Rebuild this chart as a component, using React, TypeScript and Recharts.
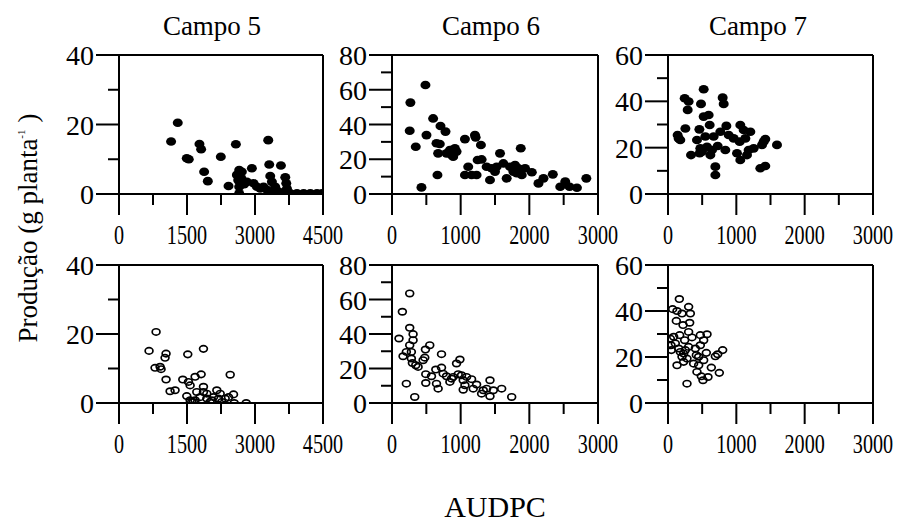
import React from "react";
import { ScatterChart, Scatter, XAxis, YAxis, ReferenceLine } from "recharts";

const FONT = '"Liberation Serif", "Times New Roman", serif';

// Campo 5 / 6 / 7, upper row (filled) and lower row (open): [AUDPC, produção]
const campo5Top: [number, number][] = [
  [1296, 20.5], [1149, 15.1], [1775, 14.4], [1812, 12.9], [1495, 10.3], [1539, 10.0],
  [1878, 6.4], [1959, 3.7], [2246, 10.7], [2578, 14.3], [2416, 2.3], [3292, 15.5],
  [3314, 8.5], [3572, 8.2], [2931, 7.4], [2651, 6.9], [2710, 6.4], [2600, 5.5],
  [2629, 4.0], [2651, 2.1], [2651, 0.2], [2821, 3.5], [2968, 3.1], [3115, 1.6],
  [3336, 5.2], [3373, 3.5], [3446, 2.1], [3668, 4.8], [3690, 3.1], [3705, 1.6],
  [3520, 0.7], [3778, 0.2], [3926, 0.2], [4073, 0.2], [4220, 0.2], [4367, 0.2],
  [4480, 0.2], [3594, 0.2], [3263, 1.2], [3189, 2.1], [3042, 2.1], [2700, 4.5],
  [2760, 2.8], [3400, 0.8],
];

const campo6Top: [number, number][] = [
  [268, 52.6], [487, 62.7], [258, 36.4], [346, 27.2], [429, 3.8], [502, 33.9],
  [599, 43.5], [706, 39.1], [779, 35.9], [648, 29.2], [696, 28.8], [672, 23.4],
  [662, 10.9], [794, 23.4], [843, 25.3], [891, 21.5], [940, 24.4], [867, 22.4],
  [916, 26.3], [1062, 31.6], [1208, 33.9], [1218, 32.6], [1295, 28.2], [1062, 10.9],
  [1110, 15.7], [1159, 10.9], [1232, 10.9], [1247, 19.6], [1305, 19.9], [1427, 8.1],
  [1451, 14.8], [1573, 23.4], [1524, 15.7], [1622, 17.6], [1670, 9.0], [1719, 15.7],
  [1792, 16.7], [1875, 26.3], [1817, 11.9], [1890, 10.9], [1938, 14.8], [2036, 12.5],
  [2133, 6.1], [2206, 9.0], [2342, 11.3], [2450, 4.2], [2523, 7.1], [2586, 4.2],
  [2693, 3.6], [2830, 9.0], [1768, 12.9], [1841, 14.8], [1500, 12.9], [1378, 15.7],
];

const campo7Top: [number, number][] = [
  [522, 45.2], [244, 41.3], [302, 39.9], [288, 36.3], [483, 38.9], [800, 41.6],
  [815, 38.9], [141, 25.5], [180, 23.3], [254, 28.3], [156, 24.0], [337, 16.8],
  [459, 27.9], [424, 23.3], [522, 33.4], [595, 34.1], [610, 29.8], [546, 24.8],
  [498, 18.3], [571, 20.4], [644, 19.0], [693, 11.8], [693, 8.2], [727, 20.7],
  [839, 19.0], [766, 26.9], [854, 29.4], [888, 25.5], [961, 24.0], [1058, 29.8],
  [1107, 27.6], [1205, 26.9], [1132, 24.0], [1049, 22.6], [1010, 17.6], [1058, 14.7],
  [1156, 16.8], [1180, 19.0], [1254, 19.7], [1400, 22.6], [1424, 23.7], [1376, 21.2],
  [1351, 11.1], [1424, 12.1], [1595, 21.2], [473, 19.7], [463, 17.6], [620, 16.8],
  [668, 24.8],
];

const campo5Bot: [number, number][] = [
  [818, 20.6], [663, 15.1], [1038, 14.3], [1016, 13.1], [1517, 14.1], [1863, 15.7],
  [795, 10.2], [906, 10.5], [928, 9.8], [1038, 6.8], [1127, 3.4], [1237, 3.7],
  [1407, 6.8], [1532, 6.1], [1569, 5.1], [1679, 7.6], [1812, 8.3], [2453, 8.2],
  [1495, 2.0], [1605, 0.3], [1679, 0.8], [1716, 3.2], [1789, 1.7], [1863, 4.7],
  [1863, 3.2], [1937, 1.3], [2010, 0.3], [2084, 1.7], [2158, 3.7], [2232, 2.7],
  [2268, 0.3], [2342, 1.3], [2416, 1.7], [2526, 2.5], [2541, 0.0], [2806, 0.0],
  [1642, 0.3], [1937, 2.7], [2047, 0.8], [2195, 1.3], [1569, 0.8],
];

const campo6Bot: [number, number][] = [
  [258, 63.5], [151, 52.9], [102, 37.4], [258, 43.6], [307, 39.9], [307, 36.4],
  [258, 33.5], [209, 29.6], [161, 27.1], [282, 29.6], [282, 25.8], [297, 23.2],
  [346, 21.9], [380, 20.9], [209, 11.2], [331, 3.5], [453, 24.8], [487, 31.0],
  [550, 33.5], [477, 26.3], [492, 16.7], [492, 11.6], [575, 15.5], [638, 19.4],
  [648, 11.2], [672, 8.3], [721, 28.3], [721, 20.5], [745, 17.0], [794, 15.5],
  [843, 12.2], [867, 14.1], [940, 22.9], [989, 25.2], [1013, 16.1], [1037, 13.2],
  [1062, 10.3], [1086, 15.1], [1037, 7.7], [1159, 13.8], [1183, 8.3], [1232, 10.7],
  [1305, 5.4], [1329, 7.4], [1378, 8.3], [1427, 13.2], [1427, 3.9], [1476, 7.4],
  [1597, 8.3], [1743, 3.5], [891, 15.1], [964, 16.7],
];

const campo7Bot: [number, number][] = [
  [166, 45.2], [68, 40.8], [132, 40.0], [205, 38.9], [302, 41.8], [327, 38.9],
  [122, 35.7], [220, 33.9], [317, 34.9], [302, 30.9], [34, 28.0], [83, 28.8],
  [171, 29.5], [244, 27.3], [351, 28.5], [44, 25.1], [107, 25.9], [156, 23.7],
  [49, 23.0], [180, 22.2], [229, 21.5], [205, 20.1], [278, 19.3], [132, 16.4],
  [229, 17.9], [400, 23.7], [473, 25.1], [473, 29.5], [571, 29.9], [522, 27.3],
  [561, 21.8], [449, 20.1], [415, 20.8], [522, 18.6], [449, 16.4], [424, 13.5],
  [488, 11.6], [512, 9.9], [585, 11.3], [634, 15.4], [693, 20.3], [727, 21.2],
  [800, 23.0], [751, 13.1], [278, 8.4], [375, 17.1], [302, 24.4], [254, 23.0],
];

// ticks
const xTicks5 = [0, 750, 1500, 2250, 3000, 3750, 4500];
const xLabels5 = [0, 1500, 3000, 4500];
const xTicks67 = [0, 500, 1000, 1500, 2000, 2500, 3000];
const xLabels67 = [0, 1000, 2000, 3000];
const yTicks5 = [0, 10, 20, 30, 40];
const yLabels5 = [0, 20, 40];
const yTicks6 = [0, 10, 20, 30, 40, 50, 60, 70, 80];
const yLabels6 = [0, 20, 40, 60, 80];
const yTicks7 = [0, 10, 20, 30, 40, 50, 60];
const yLabels7 = [0, 20, 40, 60];

const xTick = (labels: number[]) => (props: any) => {
  const { x, y, payload } = props;
  const major = labels.includes(payload.value);
  return (
    <g>
      <line x1={x} y1={y} x2={x} y2={y + (major ? 21 : 11)} stroke="#000" strokeWidth={2} />
      {major && (
        <text
          transform={`translate(${x},${y + 50}) scale(0.72,1)`}
          textAnchor="middle"
          fontSize={28}
          fontFamily={FONT}
          fill="#000"
        >
          {payload.value}
        </text>
      )}
    </g>
  );
};

const yTick = (labels: number[]) => (props: any) => {
  const { x, y, payload } = props;
  const major = labels.includes(payload.value);
  return (
    <g>
      <line x1={x - (major ? 23 : 11)} y1={y} x2={x} y2={y} stroke="#000" strokeWidth={2} />
      {major && (
        <text x={x - 25} y={y + 10} textAnchor="end" fontSize={28} fontFamily={FONT} fill="#000">
          {payload.value}
        </text>
      )}
    </g>
  );
};

const dot = (filled: boolean) => (p: any) =>
  filled ? (
    <ellipse cx={p.cx} cy={p.cy} rx={5} ry={4.3} fill="#000" />
  ) : (
    <ellipse cx={p.cx} cy={p.cy} rx={3.9} ry={3.2} fill="none" stroke="#000" strokeWidth={1.7} />
  );

interface PanelProps {
  left: number;
  top: number;
  width: number;
  height: number;
  points: [number, number][];
  xTicks: number[];
  xLabels: number[];
  yTicks: number[];
  yLabels: number[];
  filled: boolean;
}

function Panel({ left, top, width, height, points, xTicks, xLabels, yTicks, yLabels, filled }: PanelProps) {
  const ML = 100, MR = 50, MT = 30, MB = 60;
  const xMax = xTicks[xTicks.length - 1];
  const yMax = yTicks[yTicks.length - 1];
  const data = points.map(([x, y]) => ({ x, y }));
  return (
    <div style={{ position: "absolute", left: left - ML, top: top - MT }}>
      <ScatterChart
        width={width + ML + MR}
        height={height + MT + MB}
        margin={{ top: MT, right: MR, left: 0, bottom: 0 }}
      >
        <XAxis
          type="number"
          dataKey="x"
          domain={[0, xMax]}
          ticks={xTicks}
          interval={0}
          height={MB}
          tickSize={0}
          tickMargin={0}
          tickLine={false}
          axisLine={{ stroke: "#000", strokeWidth: 2 }}
          tick={xTick(xLabels)}
          allowDataOverflow
        />
        <YAxis
          type="number"
          dataKey="y"
          domain={[0, yMax]}
          ticks={yTicks}
          interval={0}
          width={ML}
          tickSize={0}
          tickMargin={0}
          tickLine={false}
          axisLine={{ stroke: "#000", strokeWidth: 2 }}
          tick={yTick(yLabels)}
          allowDataOverflow
        />
        <ReferenceLine y={yMax} stroke="#000" strokeWidth={2} />
        <ReferenceLine x={xMax} stroke="#000" strokeWidth={2} />
        <Scatter data={data} isAnimationActive={false} shape={dot(filled)} />
      </ScatterChart>
    </div>
  );
}

export default function App() {
  const topY = 55, topH = 139, botY = 265, botH = 138;
  return (
    <div style={{ position: "absolute", left: 0, top: 0, width: 902, height: 529, background: "#fff", overflow: "hidden" }}>
      <svg width={902} height={529} style={{ position: "absolute", left: 0, top: 0 }}>
        <text x={212} y={35} textAnchor="middle" fontSize={27} fontFamily={FONT}>Campo 5</text>
        <text x={491} y={35} textAnchor="middle" fontSize={27} fontFamily={FONT}>Campo 6</text>
        <text x={758} y={35} textAnchor="middle" fontSize={27} fontFamily={FONT}>Campo 7</text>
        <text x={495} y={517} textAnchor="middle" fontSize={30} fontFamily={FONT}>AUDPC</text>
        <text transform="translate(37,228) rotate(-90)" textAnchor="middle" fontSize={27} fontFamily={FONT}>
          Produção (g planta
          <tspan fontSize={11} dy={-12}>-1</tspan>
          <tspan dy={12} dx={7}>)</tspan>
        </text>
      </svg>
      <Panel left={119} top={topY} width={204} height={topH} points={campo5Top} xTicks={xTicks5} xLabels={xLabels5} yTicks={yTicks5} yLabels={yLabels5} filled />
      <Panel left={392} top={topY} width={206} height={topH} points={campo6Top} xTicks={xTicks67} xLabels={xLabels67} yTicks={yTicks6} yLabels={yLabels6} filled />
      <Panel left={668} top={topY} width={205} height={topH} points={campo7Top} xTicks={xTicks67} xLabels={xLabels67} yTicks={yTicks7} yLabels={yLabels7} filled />
      <Panel left={119} top={botY} width={204} height={botH} points={campo5Bot} xTicks={xTicks5} xLabels={xLabels5} yTicks={yTicks5} yLabels={yLabels5} filled={false} />
      <Panel left={392} top={botY} width={206} height={botH} points={campo6Bot} xTicks={xTicks67} xLabels={xLabels67} yTicks={yTicks6} yLabels={yLabels6} filled={false} />
      <Panel left={668} top={botY} width={205} height={botH} points={campo7Bot} xTicks={xTicks67} xLabels={xLabels67} yTicks={yTicks7} yLabels={yLabels7} filled={false} />
    </div>
  );
}
